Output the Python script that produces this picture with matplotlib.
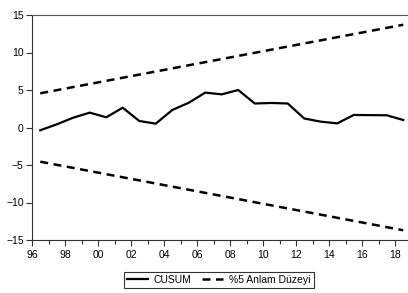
import numpy as np
import matplotlib
matplotlib.use("Agg")
import matplotlib.pyplot as plt
from matplotlib.ticker import MultipleLocator

plt.rcParams['font.family'] = ['Liberation Sans', 'DejaVu Sans']

# CUSUM test values, 1996-2018
years = np.arange(1996, 2019)
cusum = [-0.37, 0.42, 1.31, 1.98, 1.36, 2.64, 0.87, 0.51, 2.33, 3.3, 4.65, 4.42,
         5.0, 3.2, 3.27, 3.2, 1.2, 0.78, 0.55, 1.67, 1.65, 1.63, 1.0]
upper_start = 4.56
upper_end = 13.7

# 5% bounds are straight lines
upper = [upper_start, upper_end]
lower = [-upper_start, -upper_end]
bound_x = [years[0] + 0.5, years[-1] + 0.5]
tick_labels = ["%02d" % (y % 100) for y in range(1996, 2019, 2)]

W, H = 408, 293
fig = plt.figure(figsize=(W / 100, H / 100), dpi=100)
ax = fig.add_axes([32 / W, (H - 240) / H, 379.5 / W, 225 / H])

# eviews puts annual points at mid-year
ax.plot(years + 0.5, cusum, color="black", lw=1.6, solid_joinstyle="round",
        label="CUSUM")
ax.plot(bound_x, upper, color="black", lw=1.8, dashes=(3.2, 2.2),
        label="%5 Anlam Düzeyi")
ax.plot(bound_x, lower, color="black", lw=1.8, dashes=(3.2, 2.2))

ax.set_xlim(1996, 2019)
ax.set_ylim(-15, 15)
ax.set_xticks(range(1996, 2019, 2))
ax.set_xticklabels(tick_labels)
ax.xaxis.set_minor_locator(MultipleLocator(1))
ax.set_yticks([-15, -10, -5, 0, 5, 10, 15])
ax.tick_params(axis="both", which="major", length=4, width=0.8, labelsize=7.5,
               color="#333333")
ax.tick_params(axis="x", which="minor", length=3, width=0.8, color="#333333")
ax.tick_params(axis="x", pad=3)
ax.tick_params(axis="y", pad=2)

ax.spines["right"].set_visible(False)
ax.spines["top"].set_color("#555555")
ax.spines["left"].set_color("#333333")
ax.spines["bottom"].set_color("#333333")

leg = fig.legend(loc="center", bbox_to_anchor=(218.7 / W, (H - 280) / H),
                 ncol=2, fontsize=7.5, frameon=True, fancybox=False,
                 edgecolor="black", handlelength=2.0, columnspacing=1.0,
                 handletextpad=0.6, borderpad=0.3)
leg.get_frame().set_linewidth(0.8)

fig.savefig("out.png", dpi=100)
